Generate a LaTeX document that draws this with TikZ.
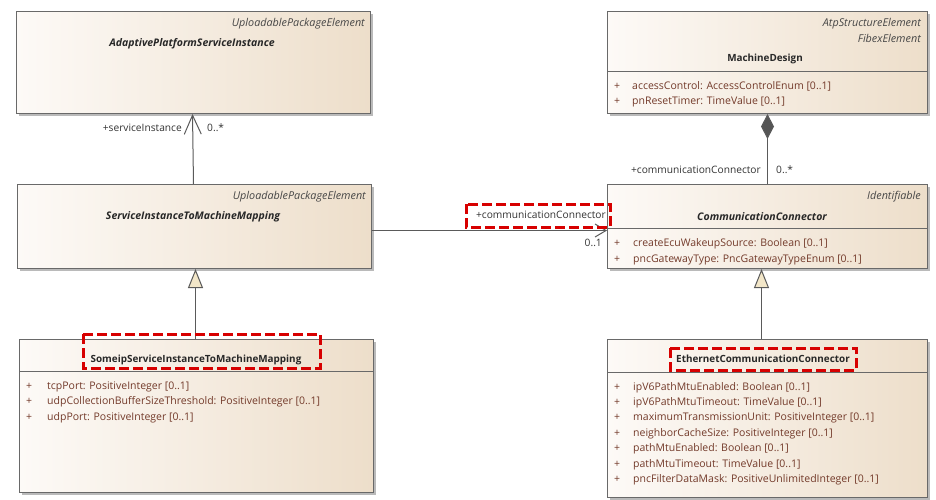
\documentclass[tikz,border=0pt]{standalone}
\usepackage{fontspec}
\setmainfont{Open Sans}
\usetikzlibrary{arrows.meta,shadows}
\definecolor{bord}{RGB}{105,105,105}
\definecolor{fillL}{RGB}{253,250,247}
\definecolor{fillR}{RGB}{237,222,202}
\definecolor{attrc}{RGB}{115,58,42}
\definecolor{namec}{RGB}{40,40,40}
\definecolor{stereoc}{RGB}{70,70,70}
\definecolor{connc}{RGB}{90,90,90}
\definecolor{trifill}{RGB}{242,230,200}
\definecolor{diafill}{RGB}{85,85,85}
\definecolor{redc}{RGB}{215,0,0}
\tikzset{
  cls/.style={draw=bord, line width=1pt, left color=fillL, right color=fillR,
    rectangle, inner sep=0pt, anchor=north west,
    drop shadow={shadow xshift=2.5pt, shadow yshift=-2.5pt, fill=black!45, opacity=0.6}},
  sep/.style={draw=bord, line width=1pt},
  stereo/.style={font=\fontsize{10.8}{12}\selectfont\itshape, text=stereoc, inner sep=0pt, anchor=base east},
  cname/.style={font=\fontsize{9.9}{12}\selectfont\bfseries, text=namec, inner sep=0pt, anchor=base},
  cnameit/.style={font=\fontsize{10.5}{12}\selectfont\bfseries\itshape, text=namec, inner sep=0pt, anchor=base},
  plus/.style={font=\fontsize{10.5}{12}\selectfont, text=attrc, inner sep=0pt, anchor=base west},
  attr/.style={font=\fontsize{10.5}{12}\selectfont, text=attrc, inner sep=0pt, anchor=base west},
  lbl/.style={font=\fontsize{10.2}{12}\selectfont, text=black!80, inner sep=0pt},
  conn/.style={draw=connc, line width=1pt},
  redbox/.style={draw=redc, line width=3pt, dash pattern=on 10pt off 4pt},
}
\begin{document}
\begin{tikzpicture}[x=1pt,y=-1pt]
\useasboundingbox (0,0) rectangle (936,499);
\fill[white] (0,0) rectangle (936,499);

% ---- class boxes
\node[cls, minimum width=354pt, minimum height=102pt] (A) at (16,11) {};
\node[cls, minimum width=354pt, minimum height=84pt] (B) at (17,184) {};
\node[cls, minimum width=354pt, minimum height=153pt] (C) at (19,339) {};
\node[cls, minimum width=320pt, minimum height=102pt] (D) at (607,11) {};
\node[cls, minimum width=320pt, minimum height=84pt] (E) at (607,184) {};
\node[cls, minimum width=320pt, minimum height=158pt] (F) at (607,339) {};

% ---- compartment separators
\draw[sep] (19,371) -- (373,371);
\draw[sep] (607,71) -- (927,71);
\draw[sep] (607,228) -- (927,228);
\draw[sep] (607,372) -- (927,372);

% ---- A
\node[stereo] (Ast) at (365,26) {UploadablePackageElement};
\node[cnameit] (An) at (192,46) {AdaptivePlatformServiceInstance};
% ---- B
\node[stereo] (Bst) at (366,199) {UploadablePackageElement};
\node[cnameit] (Bn) at (193,219) {ServiceInstanceToMachineMapping};
% ---- C
\node[cname] (Cn) at (196,362) {SomeipServiceInstanceToMachineMapping};
\node[plus] (Cp1) at (26,389) {+};
\node[attr] (Ca1) at (47,389) {tcpPort: PositiveInteger [0..1]};
\node[plus] (Cp2) at (26,404.5) {+};
\node[attr] (Ca2) at (47,404.5) {udpCollectionBufferSizeThreshold: PositiveInteger [0..1]};
\node[plus] (Cp3) at (26,420) {+};
\node[attr] (Ca3) at (47,420) {udpPort: PositiveInteger [0..1]};
% ---- D
\node[stereo] (Dst1) at (921,26) {AtpStructureElement};
\node[stereo] (Dst2) at (921,42) {FibexElement};
\node[cname] (Dn) at (765,61) {MachineDesign};
\node[plus] (Dp1) at (614,89) {+};
\node[attr] (Da1) at (632,89) {accessControl: AccessControlEnum [0..1]};
\node[plus] (Dp2) at (614,104) {+};
\node[attr] (Da2) at (632,104) {pnResetTimer: TimeValue [0..1]};
% ---- E
\node[stereo] (Est) at (921,199) {Identifiable};
\node[cnameit] (En) at (762,220) {CommunicationConnector};
\node[plus] (Ep1) at (614,246) {+};
\node[attr] (Ea1) at (633,246) {createEcuWakeupSource: Boolean [0..1]};
\node[plus] (Ep2) at (614,262) {+};
\node[attr] (Ea2) at (633,262) {pncGatewayType: PncGatewayTypeEnum [0..1]};
% ---- F
\node[cname] (Fn) at (763,362) {EthernetCommunicationConnector};
\node[plus] (Fp1) at (614,390) {+};
\node[attr] (Fa1) at (633,390) {ipV6PathMtuEnabled: Boolean [0..1]};
\node[plus] (Fp2) at (614,405.4) {+};
\node[attr] (Fa2) at (633,405.4) {ipV6PathMtuTimeout: TimeValue [0..1]};
\node[plus] (Fp3) at (614,420.8) {+};
\node[attr] (Fa3) at (633,420.8) {maximumTransmissionUnit: PositiveInteger [0..1]};
\node[plus] (Fp4) at (614,436.2) {+};
\node[attr] (Fa4) at (633,436.2) {neighborCacheSize: PositiveInteger [0..1]};
\node[plus] (Fp5) at (614,451.6) {+};
\node[attr] (Fa5) at (633,451.6) {pathMtuEnabled: Boolean [0..1]};
\node[plus] (Fp6) at (614,467) {+};
\node[attr] (Fa6) at (633,467) {pathMtuTimeout: TimeValue [0..1]};
\node[plus] (Fp7) at (614,482.4) {+};
\node[attr] (Fa7) at (633,482.4) {pncFilterDataMask: PositiveUnlimitedInteger [0..1]};

% ---- connectors
\draw[conn, -{Straight Barb[length=19pt,width=17pt]}] ([xshift=-1pt]B.north) -- ([xshift=-1pt]A.south);
\draw[conn, -{Triangle[length=19pt,width=15pt,fill=trifill]}] ([xshift=-1pt]C.north) -- ([xshift=-1pt]C.north |- B.south);
\draw[conn, -{Diamond[length=25pt,width=13pt,fill=diafill]}] (E.north) -- (D.south);
\draw[conn, -{Triangle[length=19pt,width=15pt,fill=trifill]}] ([xshift=-6pt]F.north) -- ([xshift=-6pt]E.south);
\draw[conn, -{Straight Barb[length=11pt,width=13pt]}] ([yshift=-4pt]B.east) -- ([yshift=-4pt]E.west);

% ---- connector labels
\node[lbl, anchor=east] (l1) at (182,128) {+serviceInstance};
\node[lbl, anchor=west] (l2) at (207,128) {0..*};
\node[lbl, anchor=east] (l3) at (761,170) {+communicationConnector};
\node[lbl, anchor=west] (l4) at (776,170) {0..*};
\node[lbl, anchor=east] (l5) at (606,215) {+communicationConnector};
\node[lbl, anchor=east] (l6) at (602,243) {0..1};

% ---- red highlight frames
\draw[redbox] (466,204) rectangle (610,227);
\draw[redbox] (83,334) rectangle (320,368);
\draw[redbox] (670,348) rectangle (856,370);
\end{tikzpicture}
\end{document}
